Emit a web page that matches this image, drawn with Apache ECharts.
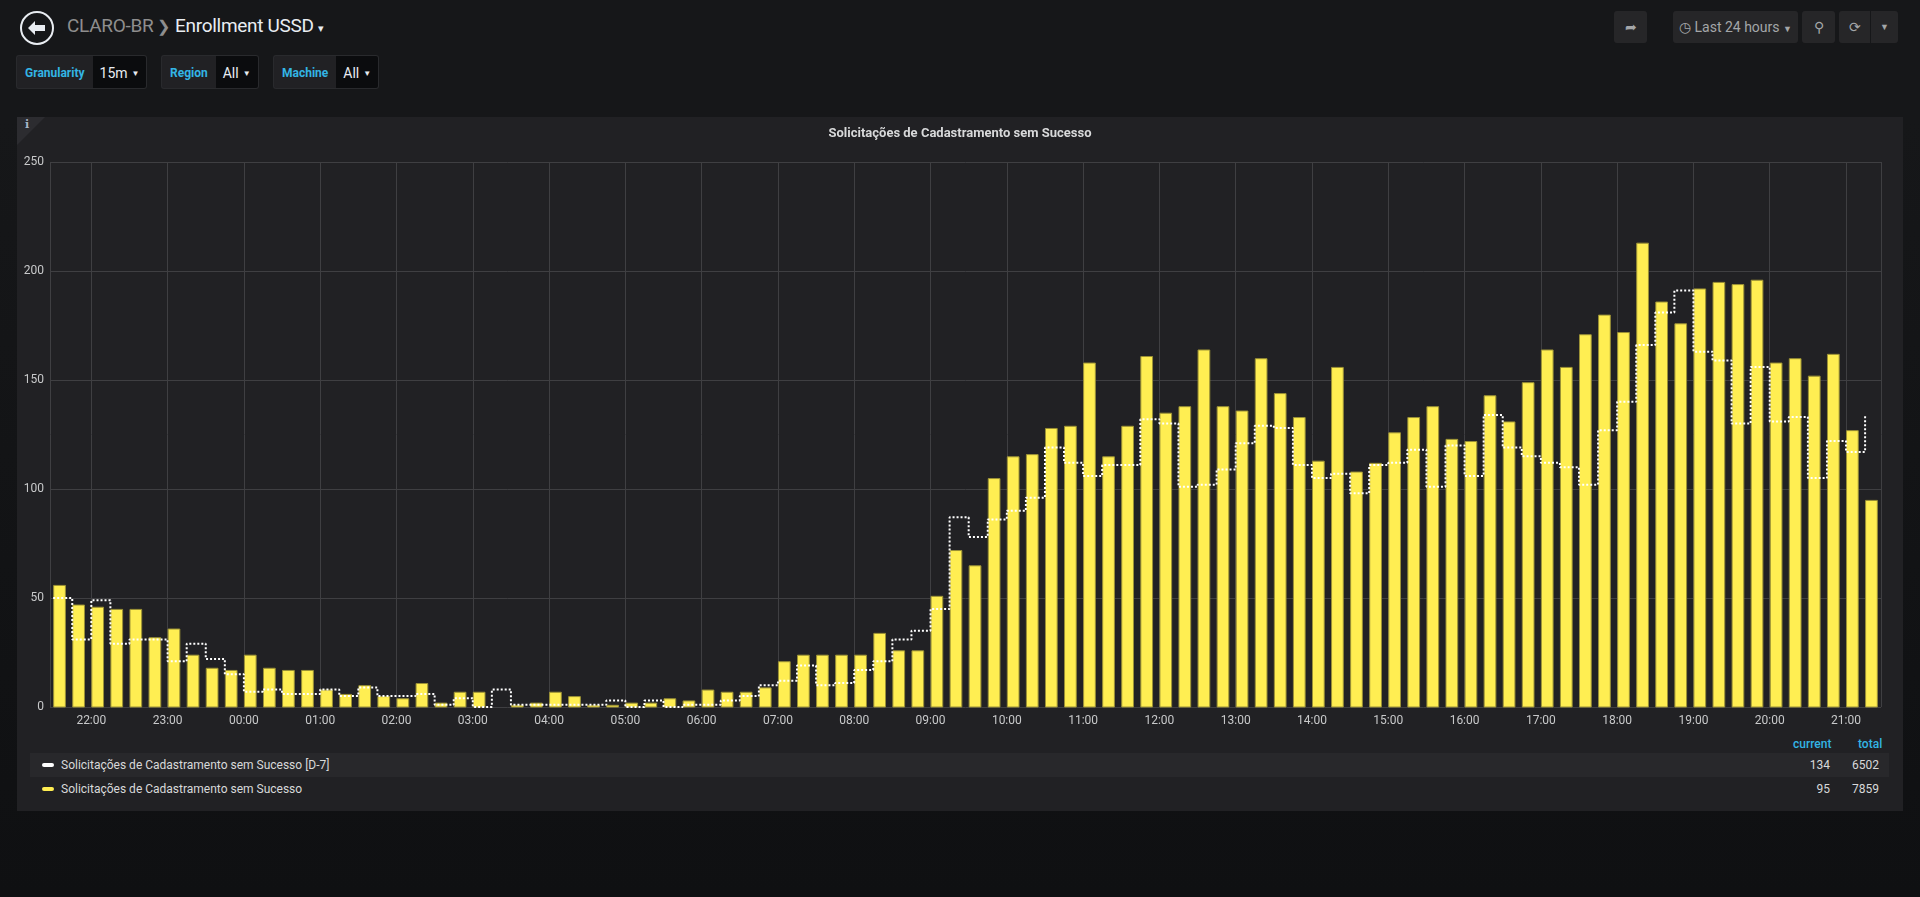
<!DOCTYPE html>
<html>
<head>
<meta charset="utf-8">
<title>Enrollment USSD</title>
<script src="https://cdn.jsdelivr.net/npm/echarts@6/dist/echarts.min.js"></script>
<style>
  html, body { margin: 0; padding: 0; }
  body {
    width: 1920px; height: 897px; overflow: hidden; position: relative;
    background: linear-gradient(#161719 0, #161719 120px, #0f1012 897px);
    font-family: Roboto, "Noto Sans", sans-serif; color: #d8d9da;
  }
  .abs { position: absolute; }
  .back { left: 19px; top: 11px; width: 36px; height: 36px; }
  .crumb { left: 67px; top: 14px; font-size: 19px; color: #8e8e8e; letter-spacing: -0.3px; }
  .crumb .sep { color: #8e8e8e; margin: 0 5px 0 4px; font-size: 16px; }
  .crumb .cur { color: #e9edf2; }
  .crumb .caret { color: #e9edf2; font-size: 11px; margin-left: 4px; }
  .var { top: 55px; height: 34px; display: flex; font-size: 12px; }
  .var .lbl {
    background: #212124; color: #33b5e5; font-weight: bold; padding: 0 8px;
    line-height: 34px; border: 1px solid #292a2d; border-right: none; border-radius: 3px 0 0 3px;
  }
  .var .val {
    background: #0b0c0e; color: #e9edf2; padding: 0 7px 0 7px; line-height: 34px;
    font-size: 14px; border: 1px solid #292a2d; border-left: none; border-radius: 0 3px 3px 0;
  }
  .var .val span { font-size: 8px; margin-left: 4px; vertical-align: 2px; }
  .btn {
    top: 11px; height: 32px; background: #262628; border-radius: 3px; color: #a4a6a8;
    font-size: 14px; line-height: 32px; text-align: center;
  }
  .panel { left: 17px; top: 117px; width: 1886px; height: 694px; background: #212124; }
  .corner {
    left: 0; top: 0; width: 0; height: 0;
    border-top: 28px solid #2c2c30; border-right: 28px solid transparent;
  }
  .corner-i { left: 8px; top: 1px; font-size: 11px; color: #a8b6c8; font-family: "DejaVu Serif", serif; font-weight: bold; }
  #chart { position: absolute; left: 0; top: 0; width: 1886px; height: 620px; }
  .lg-head { top: 620px; font-size: 12px; color: #33b5e5; font-weight: 500; }
  .lg-row { left: 13px; width: 1859px; height: 24px; font-size: 12px; line-height: 24px; }
  .lg-row .ico { position: absolute; left: 12px; top: 10px; width: 12px; height: 4px; border-radius: 2px; }
  .lg-row .name { position: absolute; left: 31px; color: #d8d9da; }
  .lg-row .num { position: absolute; text-align: right; width: 60px; color: #d8d9da; }
</style>
</head>
<body>

<svg class="abs back" viewBox="0 0 36 36">
  <circle cx="18" cy="17" r="16" fill="none" stroke="#e9edf2" stroke-width="2"/>
  <path d="M9 17 L16 10 L16 14 L26 14 L26 20 L16 20 L16 24 Z" fill="#e9edf2"/>
</svg>
<div class="abs crumb">CLARO-BR<span class="sep">&#10095;</span><span class="cur">Enrollment USSD</span><span class="caret">&#9662;</span></div>

<div class="abs var" style="left:16px;"><div class="lbl">Granularity</div><div class="val">15m<span>&#9660;</span></div></div>
<div class="abs var" style="left:161px;"><div class="lbl">Region</div><div class="val">All<span>&#9660;</span></div></div>
<div class="abs var" style="left:273px;"><div class="lbl">Machine</div><div class="val">All<span>&#9660;</span></div></div>

<div class="abs btn" style="left:1614px;width:33px;">&#10150;</div>
<div class="abs btn" style="left:1673px;width:125px;">&#9719; Last 24 hours <span style="font-size:9px;">&#9660;</span></div>
<div class="abs btn" style="left:1802px;width:33px;">&#9906;</div>
<div class="abs btn" style="left:1839px;width:31px;border-radius:3px 0 0 3px;">&#10227;</div>
<div class="abs btn" style="left:1871px;width:27px;border-radius:0 3px 3px 0;font-size:9px;">&#9660;</div>

<div class="abs panel">
  <div class="abs corner"></div>
  <div class="abs corner-i">i</div>
  <div id="chart"></div>
  <div class="abs lg-head" style="left:1776px;">current</div>
  <div class="abs lg-head" style="left:1841px;">total</div>
  <div class="abs lg-row" style="top:636px;background:#28282b;">
    <div class="ico" style="background:#ffffff;"></div>
    <div class="name" id="name0"></div>
    <div class="num" id="cur0" style="left:1740px;"></div>
    <div class="num" id="tot0" style="left:1789px;"></div>
  </div>
  <div class="abs lg-row" style="top:660px;">
    <div class="ico" style="background:#ffee52;"></div>
    <div class="name" id="name1"></div>
    <div class="num" id="cur1" style="left:1740px;"></div>
    <div class="num" id="tot1" style="left:1789px;"></div>
  </div>
</div>

<script>
// 15m buckets over the last 24h, first bucket starts 21:30
const firstBucket = new Date(2019, 4, 20, 21, 30).getTime();
const bucketMs = 15 * 60 * 1000;

const panelTitle = 'Solicitações de Cadastramento sem Sucesso';
const seriesNames = ['Solicitações de Cadastramento sem Sucesso [D-7]', 'Solicitações de Cadastramento sem Sucesso'];

// today (bars)
const failedToday = [
  56, 47, 46, 45, 45, 32, 36, 24, 18, 17, 24, 18, 17, 17, 8, 6, 10, 5, 4, 11, 2, 7, 7, 0,
  1, 2, 7, 5, 1, 1, 2, 2, 4, 3, 8, 7, 7, 9, 21, 24, 24, 24, 24, 34, 26, 26,
  51, 72, 65, 105, 115, 116, 128, 129, 158, 115, 129, 161, 135, 138, 164, 138, 136, 160, 144, 133, 113, 156, 108, 112,
  126, 133, 138, 123, 122, 143, 131, 149, 164, 156, 171, 180, 172, 213, 186, 176, 192, 195, 194, 196, 158, 160, 152, 162, 127, 95
];

// same buckets one week earlier (dotted step line)
const failedLastWeek = [
  50, 31, 49, 29, 31, 31, 21, 29, 22, 15, 7, 8, 6, 6, 8, 5, 9, 5, 5, 6, 1, 4, 0, 8,
  1, 1, 1, 1, 1, 3, 0, 3, 0, 1, 1, 3, 5, 10, 12, 19, 10, 11, 17, 21, 31, 35,
  45, 87, 78, 86, 90, 96, 119, 112, 106, 111, 111, 132, 130, 101, 102, 109, 121, 129, 128, 111, 105, 107, 98, 111,
  112, 118, 101, 120, 106, 134, 119, 115, 112, 110, 102, 127, 140, 166, 181, 191, 163, 159, 130, 156, 131, 133, 105, 122, 117, 134
];

const yTicks = [0, 50, 100, 150, 200, 250];

const bucketTimes = failedToday.map((_, i) => firstBucket + i * bucketMs);
const rangeStart = firstBucket - 2.5 * 60 * 1000;
const rangeEnd = rangeStart + 24 * 3600 * 1000;

function pad(n) { return (n < 10 ? '0' : '') + n; }
function sum(a) { return a.reduce((s, v) => s + v, 0); }

document.getElementById('name0').textContent = seriesNames[0];
document.getElementById('name1').textContent = seriesNames[1];
document.getElementById('cur0').textContent = failedLastWeek[failedLastWeek.length - 1];
document.getElementById('tot0').textContent = sum(failedLastWeek);
document.getElementById('cur1').textContent = failedToday[failedToday.length - 1];
document.getElementById('tot1').textContent = sum(failedToday);

// grafana style bar: starts at the bucket time, 2/3 of the bucket wide
function renderBucketBar(params, api) {
  const v = api.value(1);
  if (!v) return null;
  const top = api.coord([api.value(0), v]);
  const base = api.coord([api.value(0), 0]);
  const w = api.size([bucketMs, 0])[0] * 2 / 3;
  return {
    type: 'rect',
    shape: { x: top[0] + 0.5, y: top[1] + 0.5, width: w - 1, height: base[1] - top[1] - 0.5 },
    style: { fill: '#ffee52', stroke: '#9b9136', lineWidth: 1 }
  };
}

const chart = echarts.init(document.getElementById('chart'));
const gridColor = '#3f3f42';
chart.setOption({
  animation: false,
  backgroundColor: 'transparent',
  title: {
    text: panelTitle, left: 'center', top: 5,
    textStyle: { color: '#d8d9da', fontSize: 13, fontWeight: 'bold', fontFamily: 'Roboto' }
  },
  // plot area 50..1881 x 162..707 in page pixels
  grid: { left: 33, right: 22, top: 45, bottom: 30, outerBoundsMode: 'none', containLabel: false },
  xAxis: {
    type: 'time', min: rangeStart, max: rangeEnd,
    minInterval: 3600 * 1000, maxInterval: 3600 * 1000,
    axisLine: { show: false }, axisTick: { show: false },
    splitLine: { show: true, lineStyle: { color: gridColor, width: 1 } },
    axisLabel: {
      color: '#c8c9ca', fontSize: 12, fontFamily: 'Roboto', margin: 8,
      formatter: v => { const d = new Date(v); return pad(d.getHours()) + ':' + pad(d.getMinutes()); }
    }
  },
  yAxis: {
    type: 'value', min: yTicks[0], max: yTicks[yTicks.length - 1], interval: 50,
    axisLine: { show: false }, axisTick: { show: false },
    splitLine: { lineStyle: { color: gridColor, width: 1 } },
    axisLabel: { color: '#c8c9ca', fontSize: 12, fontFamily: 'Roboto', margin: 6 }
  },
  series: [
    {
      name: seriesNames[1], type: 'custom', renderItem: renderBucketBar,
      encode: { x: 0, y: 1 },
      data: bucketTimes.map((t, i) => [t, failedToday[i]]),
      z: 2
    },
    {
      name: seriesNames[0], type: 'line', step: 'end', showSymbol: false, symbol: 'none',
      data: bucketTimes.map((t, i) => [t, failedLastWeek[i]]),
      lineStyle: { color: '#ffffff', width: 2, type: [2, 2] },
      z: 5
    }
  ]
});
</script>
</body>
</html>
